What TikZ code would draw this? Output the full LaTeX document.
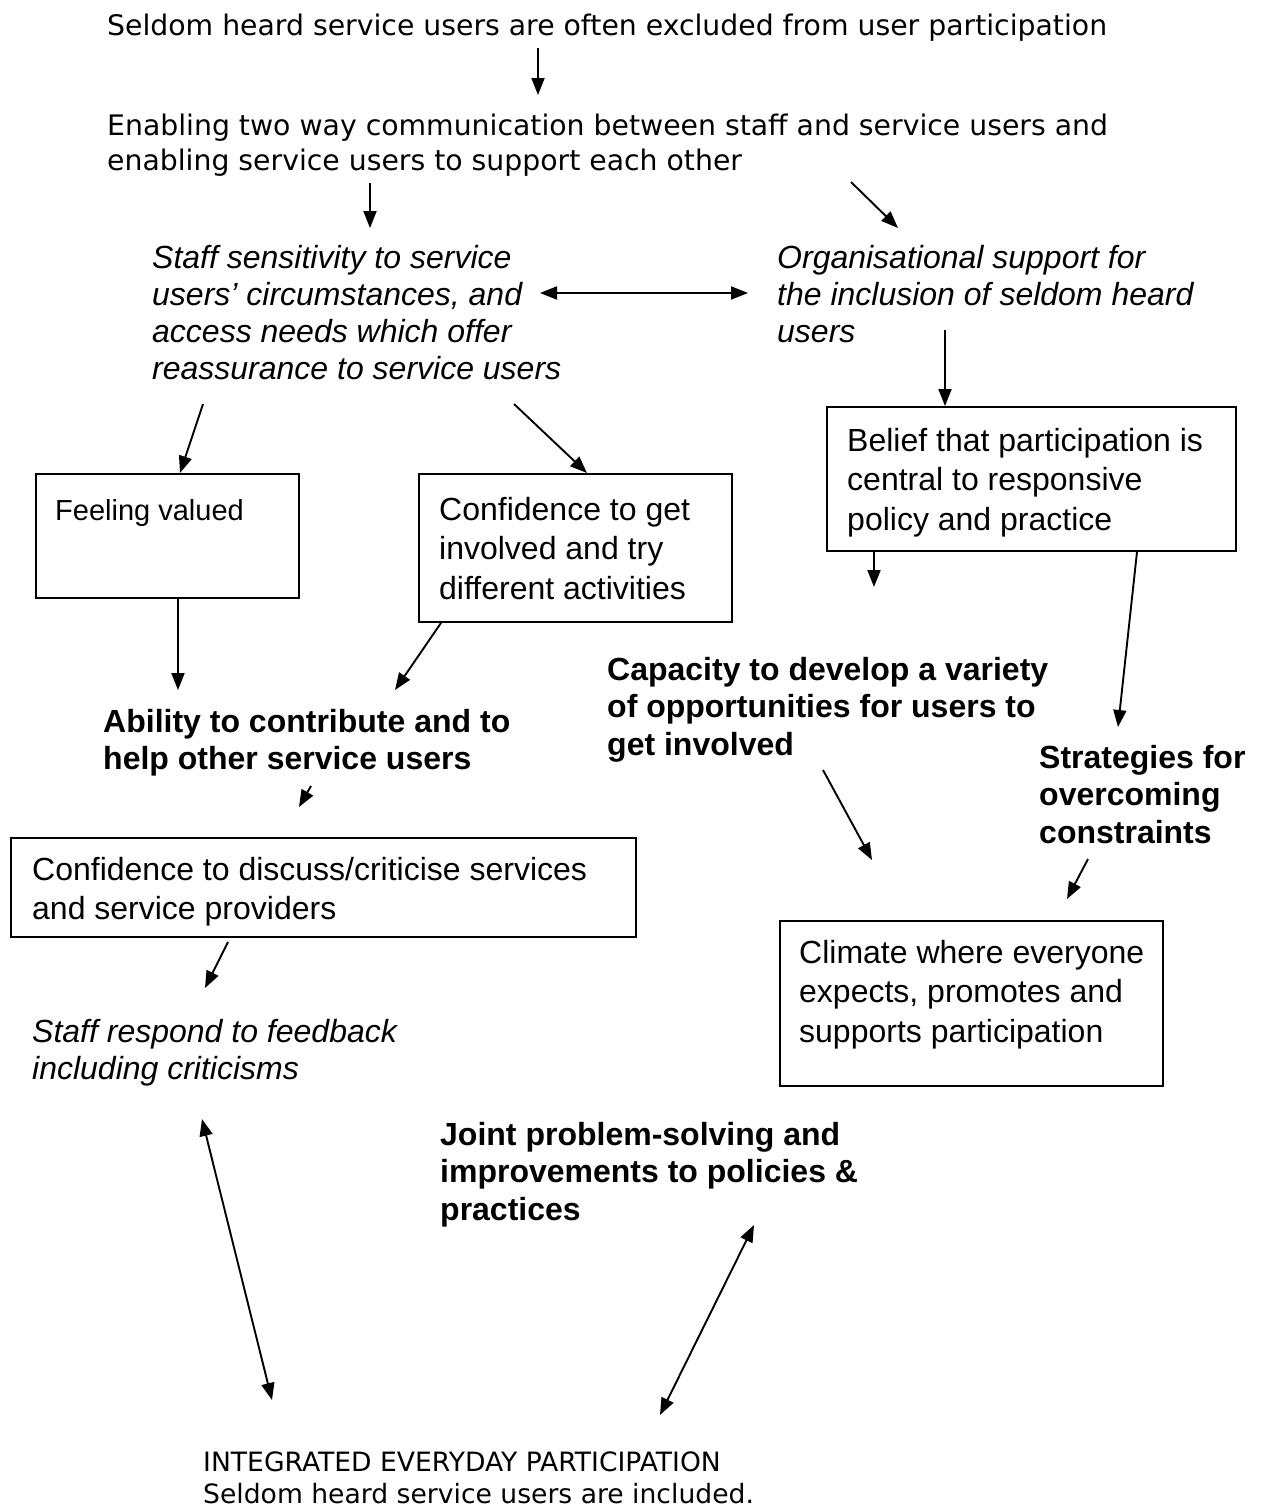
\documentclass[tikz,border=0pt]{standalone}
\usepackage{fontspec}
\setmainfont{Liberation Sans}
\newfontfamily\verdanafont{DejaVu Sans}
\usetikzlibrary{arrows.meta,calc}

\begin{document}
\begin{tikzpicture}[
  x=1pt, y=-1pt,
  every node/.style={inner sep=0pt, anchor=north west},
  plain/.style={align=left, font=\verdanafont\fontsize{28.3}{35}\selectfont},
  lead/.style={align=left, font=\fontsize{32}{37}\selectfont\itshape},
  claim/.style={align=left, font=\fontsize{32}{37.5}\selectfont\bfseries},
  box/.style={draw, line width=1.9pt},
  boxtext/.style={align=left, font=\fontsize{32}{39.5}\selectfont},
  flow/.style={-{Triangle[length=17pt,width=13pt]}, line width=1.9pt},
  twoway/.style={{Triangle[length=17pt,width=13pt]}-{Triangle[length=17pt,width=13pt]},
    line width=1.9pt},
]
  \useasboundingbox[fill=white] (0,0) rectangle (1263,1508);

  % top of the chain
  \node[plain] (excluded) at (107,14)
    {Seldom heard service users are often excluded from user participation};
  \node[plain] (enabling) at (107,114)
    {Enabling two way communication between staff and service users and\\
    enabling service users to support each other};

  % italic statements
  \node[lead] (sensitivity) at (152,245)
    {Staff sensitivity to service\\users' circumstances, and\\
    access needs which offer\\reassurance to service users};
  \node[lead] (orgsupport) at (777,245)
    {Organisational support for\\the inclusion of seldom heard\\users};

  % boxes
  \node[box, minimum width=409pt, minimum height=144pt] (belief) at (826,406) {};
  \node[boxtext] at ($(belief.north west)+(21,22)$)
    {Belief that participation is\\central to responsive\\policy and practice};
  \node[box, minimum width=263pt, minimum height=124pt] (valued) at (35,473) {};
  \node[boxtext, font=\fontsize{29}{36}\selectfont] at ($(valued.north west)+(20,26)$)
    {Feeling valued};
  \node[box, minimum width=313pt, minimum height=148pt] (tryout) at (418,473) {};
  \node[boxtext] at ($(tryout.north west)+(21,24)$)
    {Confidence to get\\involved and try\\different activities};

  % bold outcomes
  \node[claim] (ability) at (103,709)
    {Ability to contribute and to\\help other service users};
  \node[claim] (capacity) at (607,657)
    {Capacity to develop a variety\\of opportunities for users to\\get involved};
  \node[claim] (strategies) at (1039,745)
    {Strategies for\\overcoming\\constraints};

  \node[box, minimum width=625pt, minimum height=99pt] (criticise) at (10,837) {};
  \node[boxtext] at ($(criticise.north west)+(22,20)$)
    {Confidence to discuss/criticise services\\and service providers};
  \node[box, minimum width=383pt, minimum height=165pt] (climate) at (779,920) {};
  \node[boxtext] at ($(climate.north west)+(20,20)$)
    {Climate where everyone\\expects, promotes and\\supports participation};

  \node[lead] (feedback) at (32,1019)
    {Staff respond to feedback\\including criticisms};
  \node[claim] (joint) at (440,1122)
    {Joint problem-solving and\\improvements to policies \&\\practices};

  % end point
  \node[plain, font=\verdanafont\fontsize{26.6}{32}\selectfont] (integrated) at (203,1452)
    {INTEGRATED EVERYDAY PARTICIPATION\\Seldom heard service users are included.};

  % arrows
  \draw[flow] ($(excluded.north west)+(431,34)$) -- ($(enabling.north west)+(431,-19)$);
  \draw[flow] ($(enabling.north west)+(263,69)$) -- ($(sensitivity.north west)+(218,-17)$);
  \draw[flow] ($(enabling.north west)+(744,68)$) -- ($(orgsupport.north west)+(121,-17)$);
  \draw[twoway] ($(sensitivity.north west)+(388,48)$) -- ($(orgsupport.north west)+(-29,48)$);
  \draw[flow] ($(orgsupport.north west)+(168,85)$) -- ($(belief.north west)+(119,0)$);
  \draw[flow] ($(sensitivity.north west)+(51,159)$) -- ($(valued.north west)+(145,0)$);
  \draw[flow] ($(sensitivity.north west)+(362,159)$) -- ($(tryout.north west)+(169,0)$);
  \draw[flow] ($(valued.south west)+(143,0)$) -- ($(ability.north west)+(75,-19)$);
  \draw[flow] ($(tryout.south west)+(23,0)$) -- ($(ability.north west)+(292,-19)$);
  \draw[flow] ($(belief.south west)+(48,0)$) -- ($(capacity.north west)+(267,-70)$);
  \draw[flow] ($(belief.south west)+(311,0)$) -- ($(strategies.north west)+(79,-18)$);
  \draw[flow] ($(ability.north west)+(208,77)$) -- ($(criticise.north west)+(289,-30)$);
  \draw[flow] ($(capacity.north west)+(216,113)$) -- ($(climate.north west)+(93,-60)$);
  \draw[flow] ($(strategies.north west)+(49,114)$) -- ($(climate.north west)+(288,-21)$);
  \draw[flow] ($(criticise.south west)+(218,4)$) -- ($(feedback.north west)+(173,-31)$);
  \draw[twoway] ($(feedback.north west)+(170,100)$) -- ($(integrated.north west)+(69,-52)$);
  \draw[twoway] ($(joint.north west)+(314,103)$) -- ($(integrated.north west)+(457,-37)$);
\end{tikzpicture}
\end{document}
